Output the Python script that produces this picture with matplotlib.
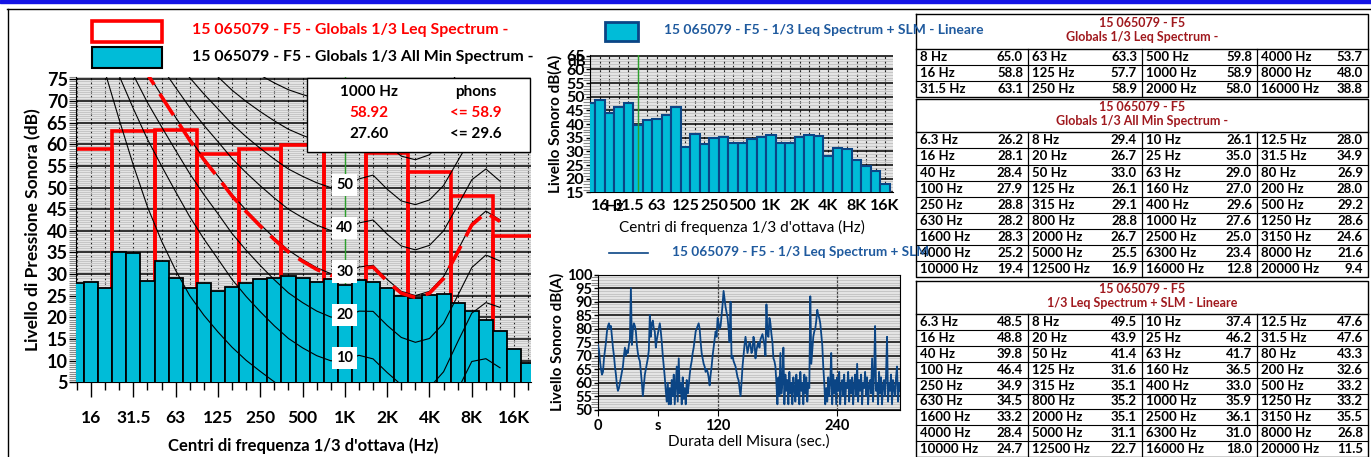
import numpy as np
import matplotlib.pyplot as plt
from matplotlib.patches import Rectangle
from matplotlib.ticker import MultipleLocator, FixedLocator

plt.rcParams['font.family'] = ['Lato', 'DejaVu Sans']

# ---- data -------------------------------------------------------------
bands = ['6.3', '8', '10', '12.5', '16', '20', '25', '31.5', '40', '50', '63', '80',
         '100', '125', '160', '200', '250', '315', '400', '500', '630', '800', '1000',
         '1250', '1600', '2000', '2500', '3150', '4000', '5000', '6300', '8000',
         '10000', '12500', '16000', '20000']
min_spectrum = [26.2, 29.4, 26.1, 28.0, 28.1, 26.7, 35.0, 34.9, 28.4, 33.0, 29.0, 26.9,
                27.9, 26.1, 27.0, 28.0, 28.8, 29.1, 29.6, 29.2, 28.2, 28.8, 27.6, 28.6,
                28.3, 26.7, 25.0, 24.6, 25.2, 25.5, 23.4, 21.6, 19.4, 16.9, 12.8, 9.4]
slm_spectrum = [48.5, 49.5, 37.4, 47.6, 48.8, 43.9, 46.2, 47.6, 39.8, 41.4, 41.7, 43.3,
                46.4, 31.6, 36.5, 32.6, 34.9, 35.1, 33.0, 33.2, 34.5, 35.2, 35.9, 33.2,
                33.2, 35.1, 36.1, 35.5, 28.4, 31.1, 31.0, 26.8, 24.7, 22.7, 18.0, 11.5]
octaves = ['8', '16', '31.5', '63', '125', '250', '500', '1000', '2000', '4000', '8000', '16000']
leq_octave = [65.0, 58.8, 63.1, 63.3, 57.7, 58.9, 59.8, 58.9, 58.0, 53.7, 48.0, 38.8]

tick_labels = ['16', '31.5', '63', '125', '250', '500', '1K', '2K', '4K', '8K', '16K']

# ISO 226:2003 parameters (20 Hz .. 12.5 kHz)
iso_af = [0.532, 0.506, 0.480, 0.455, 0.432, 0.409, 0.387, 0.367, 0.349, 0.330, 0.315,
          0.301, 0.288, 0.276, 0.267, 0.259, 0.253, 0.250, 0.246, 0.244, 0.243, 0.243,
          0.243, 0.242, 0.242, 0.245, 0.254, 0.271, 0.301]
iso_lu = [-31.6, -27.2, -23.0, -19.1, -15.9, -13.0, -10.3, -8.1, -6.2, -4.5, -3.1, -2.0,
          -1.1, -0.4, 0.0, 0.3, 0.5, 0.0, -2.7, -4.1, -1.0, 1.7, 2.5, 1.2, -2.1, -7.1,
          -11.2, -10.7, -3.1]
iso_tf = [78.5, 68.7, 59.5, 51.1, 44.0, 37.5, 31.5, 26.5, 22.1, 17.9, 14.4, 11.4, 8.6,
          6.2, 4.4, 3.0, 2.2, 2.4, 3.5, 1.7, -1.3, -4.2, -6.0, -5.4, -1.5, 6.0, 12.6,
          13.9, 12.3]
phon_levels = [0, 10, 20, 30, 40, 50, 60, 70, 80, 90]
phon_min = 29.6
info_rows = [('1000 Hz', 'phons'), ('58.92', '<= 58.9'), ('27.60', '<= 29.6')]

time_s = np.arange(304)
level_dba = [74, 72, 68, 65, 63, 64, 69, 72, 75, 79, 81, 82, 80, 81, 77, 73, 70, 66, 63, 59,
             57, 58, 60, 62, 64, 66, 70, 73, 70, 72, 71, 74, 76, 95, 74, 80, 82, 81, 79, 74,
             71, 69, 68, 64, 60, 55, 59, 63, 65, 67, 69, 72, 85, 77, 82, 83, 80, 79, 73, 76,
             78, 80, 82, 79, 75, 70, 66, 62, 57, 53, 60, 52, 58, 52, 61, 55, 63, 52, 59, 66,
             53, 69, 56, 60, 52, 62, 54, 58, 52, 61, 56, 59, 63, 66, 68, 71, 73, 76, 79, 80,
             81, 82, 80, 75, 71, 69, 67, 66, 64, 65, 64, 62, 59, 63, 66, 70, 73, 76, 79, 77,
             84, 82, 80, 81, 85, 89, 94, 91, 88, 86, 84, 80, 75, 90, 69, 70, 68, 67, 66, 64,
             62, 61, 58, 55, 60, 66, 70, 74, 77, 74, 71, 73, 75, 74, 71, 72, 77, 75, 69, 72,
             74, 75, 73, 76, 77, 78, 76, 74, 70, 89, 78, 77, 84, 82, 78, 75, 69, 68, 66, 60,
             52, 62, 55, 71, 56, 60, 73, 52, 63, 57, 61, 52, 64, 56, 60, 52, 62, 58, 53, 63,
             55, 61, 52, 64, 57, 60, 52, 63, 56, 62, 53, 60, 58, 92, 67, 72, 77, 79, 80, 83,
             87, 85, 84, 82, 78, 74, 66, 60, 52, 58, 53, 62, 55, 60, 71, 52, 63, 56, 61, 52,
             62, 57, 64, 52, 59, 61, 55, 63, 52, 60, 58, 64, 53, 61, 56, 62, 52, 59, 63, 55,
             67, 53, 61, 57, 63, 52, 60, 58, 64, 55, 62, 52, 59, 61, 56, 69, 53, 63, 81, 57,
             60, 52, 64, 56, 62, 52, 59, 61, 55, 63, 77, 53, 60, 57, 63, 52, 61, 58, 55, 62,
             66, 53, 60, 57]

title_code = '15 065079 - F5'
leg_leq = '15 065079 - F5 - Globals 1/3 Leq Spectrum -'
leg_min = '15 065079 - F5 - Globals 1/3 All Min Spectrum -'
leg_slm = '15 065079 - F5 - 1/3 Leq Spectrum + SLM - Lineare'
leg_time = '15 065079 - F5 - 1/3 Leq Spectrum + SLM'

# ---- styling ----------------------------------------------------------
CYAN = '#00bcd8'
NAVY = '#0b4585'
BLUE_TXT = '#1f5a9e'
DARKRED = '#a0191e'
BG = '#e4e4e4'

W, H = 1371, 457
fig = plt.figure(figsize=(W / 100, H / 100), dpi=100)


def px_axes(x0, y0, x1, y1, **kw):
    return fig.add_axes([x0 / W, 1 - y1 / H, (x1 - x0) / W, (y1 - y0) / H], **kw)


def iso226(phon):
    af, lu, tf = np.array(iso_af), np.array(iso_lu), np.array(iso_tf)
    a = 4.47e-3 * (10 ** (0.025 * phon) - 1.15) + (0.4 * 10 ** ((tf + lu) / 10 - 9)) ** af
    return 10 / af * np.log10(a) - lu + 94


def grid_bg(ax, minor_step):
    ax.set_facecolor(BG)
    ax.set_axisbelow(True)
    ax.yaxis.set_minor_locator(MultipleLocator(minor_step))
    ax.grid(axis='y', which='minor', color='#b9b9b9', lw=0.5)
    ax.grid(axis='y', which='major', color='black', lw=1.1)
    ax.tick_params(axis='y', which='minor', length=5, width=0.8, color='#8a8a8a')
    ax.tick_params(axis='y', which='major', length=5, width=1.0)


pos = np.arange(len(bands)) - 4          # 16 Hz at index 0
oct_pos = np.arange(len(octaves)) * 3 - 3

# ---- left chart -------------------------------------------------------
ax = px_axes(76, 76.7, 531, 382.4)
grid_bg(ax, 0.5)
ax.bar(oct_pos, leq_octave, width=3, fill=False, edgecolor='#ff0000', lw=2.6, zorder=2)
ax.bar(pos, min_spectrum, width=1, color=CYAN, edgecolor='black', lw=1.3, zorder=3)
iso_pos = np.arange(1, 30)
for ph in phon_levels:
    ax.plot(iso_pos, iso226(ph), color='black', lw=0.8, zorder=4)
ax.plot(iso_pos, iso226(phon_min), color='#ff0000', lw=2.6, dashes=(7, 3), zorder=4)
for ph in phon_levels[:6]:
    ax.text(18, iso226(ph)[17] + 0.6 + (1.6 if ph == 0 else 0), str(ph), ha='center',
            va='center', fontsize=10.5, fontweight='bold', zorder=5, clip_on=True,
            bbox=dict(boxstyle='square,pad=0.28', fc='white', ec='none'))
ax.axvline(18, color='#2ca02c', lw=1, zorder=1)
ax.set_xlim(-1.07, 31.2)
ax.set_ylim(5, 75.6)
ax.set_yticks(range(5, 80, 5))
ax.xaxis.set_major_locator(FixedLocator(range(0, 31, 3)))
ax.xaxis.set_minor_locator(FixedLocator(range(-1, 32)))
ax.set_xticklabels(tick_labels)
ax.grid(axis='x', which='both', color='#222222', lw=0.8, ls=(0, (2, 2)))
ax.tick_params(axis='x', which='major', length=11, width=1, pad=9, labelsize=12.5)
ax.tick_params(axis='x', which='minor', length=6, width=1)
ax.tick_params(axis='y', labelsize=13, pad=1)
for lab in ax.get_xticklabels() + ax.get_yticklabels():
    lab.set_fontweight('bold')
for s in ['top', 'right']:
    ax.spines[s].set_visible(False)
ax.set_ylabel('Livello di Pressione Sonora (dB)', fontsize=12.5, fontweight='bold', labelpad=4)
ax.set_xlabel("Centri di frequenza 1/3 d'ottava (Hz)", fontsize=12, fontweight='bold',
              labelpad=8)

# ---- middle top chart -------------------------------------------------
ax2 = px_axes(590, 55, 893.3, 192.3)
grid_bg(ax2, 1)
ax2.bar(pos, slm_spectrum, width=1, color=CYAN, edgecolor=NAVY, lw=1.5, zorder=3)
ax2.axvline(4, color='#2ca02c', lw=1, zorder=4)
ax2.set_xlim(-1.05, 30.87)
ax2.set_ylim(15, 65.3)
ax2.set_yticks(range(15, 70, 5))
ax2.xaxis.set_major_locator(FixedLocator(range(0, 31, 3)))
ax2.xaxis.set_minor_locator(FixedLocator(range(-1, 31)))
ax2.set_xticklabels(tick_labels)
ax2.grid(axis='x', which='both', color='#222222', lw=0.8, ls=(0, (2, 2)))
ax2.tick_params(axis='x', which='both', length=0, pad=5, labelsize=11.5)
ax2.tick_params(axis='y', labelsize=11.5, pad=1, length=3)
for lab in ax2.get_xticklabels() + ax2.get_yticklabels():
    lab.set_fontweight('bold')
for s in ['top', 'right']:
    ax2.spines[s].set_visible(False)
ax2.text(1.5, -0.107, 'Hz', transform=ax2.get_xaxis_transform(), ha='center', va='center',
         fontsize=11.5, fontweight='bold')
ax2.text(-0.012, 62.6, 'dB', transform=ax2.get_yaxis_transform(), ha='right', va='center',
         fontsize=11, fontweight='bold')
ax2.set_ylabel('Livello Sonoro dB(A)', fontsize=11, fontweight='bold', labelpad=2)
ax2.set_xlabel("Centri di frequenza 1/3 d'ottava (Hz)", fontsize=11, labelpad=5)

# ---- middle bottom chart (time history) -------------------------------
ax3 = px_axes(598, 274.7, 900, 409.7)
grid_bg(ax3, 1)
ax3.plot(time_s, level_dba, color=NAVY, lw=1.3, zorder=3)
ax3.set_xlim(0, 303)
ax3.set_ylim(50, 100)
ax3.set_yticks(range(50, 105, 5))
ax3.set_xticks([0, 60, 120, 240])
ax3.set_xticklabels(['0', 's', '120', '240'])
for xv in [120, 240]:
    ax3.axvline(xv, color='#444444', lw=0.9, ls=(0, (2, 1)), zorder=1)
ax3.tick_params(axis='x', length=4, labelsize=10.5, pad=3)
ax3.tick_params(axis='y', labelsize=10.5, pad=1, length=3)
for lab in ax3.get_xticklabels() + ax3.get_yticklabels():
    lab.set_fontweight('bold')
ax3.set_ylabel('Livello Sonoro dB(A)', fontsize=11, fontweight='bold', labelpad=2)
ax3.set_xlabel('Durata dell Misura (sec.)', fontsize=11, labelpad=1)

# ---- overlay: frame, legends, info box, tables -------------------------
ov = fig.add_axes([0, 0, 1, 1], zorder=10)
ov.set_xlim(0, W)
ov.set_ylim(H, 0)
ov.axis('off')
ov.add_patch(Rectangle((0, 0), W, 3, color='#1414e6'))
ov.plot([7, W], [9.3, 9.3], color='black', lw=1)
ov.plot([7.5, 7.5], [9.3, H], color='black', lw=1)

ov.add_patch(Rectangle((92, 21), 70, 21, fc='white', ec='#ff0000', lw=2.6))
ov.add_patch(Rectangle((92, 47), 70, 21, fc=CYAN, ec='black', lw=1.5))
ov.text(192, 30, leg_leq, color='#ff0000', fontsize=11.4, fontweight='bold', va='center')
ov.text(192, 57, leg_min, color='black', fontsize=11.4, fontweight='bold', va='center')

ov.add_patch(Rectangle((306.7, 78.3), 223.3, 74, fc='white', ec='black', lw=1))
info_colors = ['black', '#ff0000', 'black']
for (a, b), col, yy in zip(info_rows, info_colors, [92, 113, 134]):
    ov.text(369, yy, a, color=col, fontsize=11, fontweight='bold', ha='center', va='center')
    ov.text(476, yy, b, color=col, fontsize=11, fontweight='bold', ha='center', va='center')

ov.add_patch(Rectangle((605, 21.7), 33, 19, fc=CYAN, ec=NAVY, lw=2))
ov.text(664, 30, leg_slm, color=BLUE_TXT, fontsize=10, fontweight='bold', va='center',
        zorder=12)
ov.plot([609, 648], [253, 253], color=NAVY, lw=1.2)
ov.text(672, 252, leg_time, color=BLUE_TXT, fontsize=9.8, fontweight='bold', va='center',
        zorder=12)

col_x = [916, 1028, 1142, 1257, 1368]


def draw_table(top, title_bot, row_h, cells, title2):
    nrows = len(cells)
    bottom = title_bot + nrows * row_h
    ov.plot([col_x[0], col_x[-1], col_x[-1], col_x[0], col_x[0]],
            [top, top, bottom, bottom, top], color='black', lw=1)
    ov.plot([col_x[0], col_x[-1]], [title_bot, title_bot], color='black', lw=1)
    ov.text((col_x[0] + col_x[-1]) / 2, top + (title_bot - top) * 0.25, title_code,
            color=DARKRED, fontsize=9, fontweight='bold', ha='center', va='center')
    ov.text((col_x[0] + col_x[-1]) / 2, top + (title_bot - top) * 0.66, title2,
            color=DARKRED, fontsize=9, fontweight='bold', ha='center', va='center')
    for c in col_x[1:-1]:
        ov.plot([c, c], [title_bot, bottom], color='black', lw=0.9)
    for r, row in enumerate(cells):
        yc = title_bot + (r + 0.5) * row_h
        if r < nrows - 1:
            yl = title_bot + (r + 1) * row_h
            ov.plot([col_x[0], col_x[-1]], [yl, yl], color='black', lw=0.8)
        for c, (lab, val) in enumerate(row):
            ov.text(col_x[c] + 4, yc, f'{lab} Hz', fontsize=9.5, fontweight='bold',
                    va='center', ha='left')
            ov.text(col_x[c + 1] - 5, yc, f'{val:.1f}', fontsize=9.5, fontweight='bold',
                    va='center', ha='right')


oct_cells = [[(octaves[c * 3 + r], leq_octave[c * 3 + r]) for c in range(4)] for r in range(3)]
min_cells = [[(bands[r * 4 + c], min_spectrum[r * 4 + c]) for c in range(4)] for r in range(9)]
slm_cells = [[(bands[r * 4 + c], slm_spectrum[r * 4 + c]) for c in range(4)] for r in range(9)]

draw_table(14, 49, 16.1, oct_cells, 'Globals 1/3 Leq Spectrum -')
draw_table(98.5, 132.3, 16.1, min_cells, 'Globals 1/3 All Min Spectrum -')
draw_table(281, 314, 15.9, slm_cells, '1/3 Leq Spectrum + SLM - Lineare')

fig.savefig('out.png', dpi=100)
